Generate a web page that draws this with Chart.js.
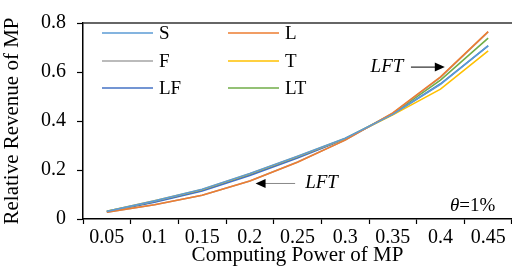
<!DOCTYPE html>
<html>
<head>
<meta charset="utf-8">
<script src="https://cdn.jsdelivr.net/npm/chart.js@4.4.0/dist/chart.umd.min.js"></script>
<style>
  html, body { margin: 0; padding: 0; background: #fff; }
  #wrap { width: 512px; height: 268px; position: relative; }
</style>
</head>
<body>
<div id="wrap"><canvas id="revenueChart"></canvas></div>
<script>
// Chart data
const powerLabels = ['0.05', '0.1', '0.15', '0.2', '0.25', '0.3', '0.35', '0.4', '0.45'];
const seriesNames = ['S', 'L', 'F', 'T', 'LF', 'LT'];
const seriesColors = ['#5B9BD5', '#ED7D31', '#A5A5A5', '#FFC000', '#4472C4', '#70AD47'];
const sValues  = [0.031, 0.074, 0.121, 0.186, 0.256, 0.330, 0.427, 0.550, 0.708];
const lValues  = [0.028, 0.058, 0.097, 0.155, 0.232, 0.322, 0.433, 0.580, 0.765];
const fValues  = [0.028, 0.058, 0.097, 0.155, 0.233, 0.322, 0.432, 0.578, 0.764];
const tValues  = [0.031, 0.074, 0.120, 0.185, 0.255, 0.329, 0.425, 0.530, 0.686];
const lfValues = [0.030, 0.068, 0.114, 0.178, 0.249, 0.326, 0.427, 0.552, 0.707];
const ltValues = [0.031, 0.071, 0.117, 0.182, 0.252, 0.328, 0.430, 0.567, 0.738];
const yTicks = [0, 0.2, 0.4, 0.6, 0.8];

const allValues = [sValues, lValues, fValues, tValues, lfValues, ltValues];
const serif = "'Liberation Serif', 'Times New Roman', serif";

// Legend + annotations drawn on top of the chart area
const extras = {
    id: 'extras',
    afterDraw(chart) {
        const c = chart.ctx;
        const xs = chart.scales.x, ys = chart.scales.y;
        c.save();

        // legend: 2 columns x 3 rows
        const cols = [102, 228];
        const rows = [33, 61, 88];
        chart.data.datasets.forEach((ds, i) => {
            const lx = cols[i % 2], ly = rows[Math.floor(i / 2)];
            c.strokeStyle = ds.borderColor;
            c.lineWidth = 1.5;
            c.beginPath();
            c.moveTo(lx, ly);
            c.lineTo(lx + 51, ly);
            c.stroke();
            c.fillStyle = '#000';
            c.font = '19px ' + serif;
            c.textBaseline = 'middle';
            c.textAlign = 'left';
            c.fillText(ds.label, lx + 57, ly + 1);
        });

        // arrow helper
        function arrow(x1, y1, x2, y2, color) {
            const dir = Math.sign(x2 - x1);
            c.strokeStyle = color;
            c.fillStyle = '#000';
            c.lineWidth = 1;
            c.beginPath();
            c.moveTo(x1, y1);
            c.lineTo(x2 - dir * 9, y2);
            c.stroke();
            c.beginPath();
            c.moveTo(x2, y2);
            c.lineTo(x2 - dir * 10, y2 - 4.5);
            c.lineTo(x2 - dir * 10, y2 + 4.5);
            c.closePath();
            c.fill();
        }

        c.font = 'italic 19px ' + serif;
        c.fillStyle = '#000';
        c.textBaseline = 'middle';

        // upper LFT label
        const y1 = ys.getPixelForValue(0.62);
        c.textAlign = 'right';
        c.fillText('LFT', xs.getPixelForValue(6.22), y1);
        arrow(xs.getPixelForValue(6.38), y1, xs.getPixelForValue(7.09), y1, '#000');

        // lower LFT label
        const y2 = ys.getPixelForValue(0.145);
        c.textAlign = 'left';
        c.fillText('LFT', xs.getPixelForValue(4.16), y2);
        arrow(xs.getPixelForValue(3.95), y2, xs.getPixelForValue(3.12), y2, '#888');

        // theta note
        const ty = ys.getPixelForValue(0.055);
        const tx = xs.getPixelForValue(7.2);
        c.textAlign = 'left';
        c.font = 'italic 19px ' + serif;
        c.fillText('\u03B8', tx, ty);
        const tw = c.measureText('\u03B8').width;
        c.font = '19px ' + serif;
        c.fillText('=1%', tx + tw, ty);

        // top border line
        c.strokeStyle = '#333';
        c.lineWidth = 1.5;
        c.beginPath();
        c.moveTo(chart.chartArea.left, chart.chartArea.top);
        c.lineTo(512, chart.chartArea.top);
        c.stroke();

        c.restore();
    }
};

const ctx = document.getElementById('revenueChart').getContext('2d');
new Chart(ctx, {
    type: 'line',
    data: {
        labels: powerLabels,
        datasets: seriesNames.map((name, i) => ({
            label: name,
            data: allValues[i],
            borderColor: seriesColors[i],
            backgroundColor: seriesColors[i],
            borderWidth: 1.6,
            pointRadius: 0,
            tension: 0,
            fill: false
        }))
    },
    plugins: [extras],
    options: {
        responsive: true,
        maintainAspectRatio: false,
        animation: false,
        layout: { padding: { top: 14, right: 0, left: 0, bottom: 0 } },
        plugins: {
            legend: { display: false },
            tooltip: { enabled: false }
        },
        scales: {
            x: {
                type: 'category',
                offset: true,
                grid: {
                    offset: true,
                    drawOnChartArea: false,
                    drawTicks: true,
                    tickLength: 5,
                    tickColor: '#000',
                    tickWidth: 1.2
                },
                border: { display: true, color: '#000', width: 1.5 },
                ticks: {
                    color: '#000',
                    font: { family: serif, size: 20 },
                    padding: 2,
                    maxRotation: 0,
                    autoSkip: false
                },
                title: {
                    display: true,
                    text: 'Computing Power of MP',
                    color: '#000',
                    font: { family: serif, size: 21 },
                    padding: { top: -4, bottom: 0 }
                },
                afterFit(scale) { scale.height = 49; }
            },
            y: {
                min: 0,
                max: 0.8,
                afterBuildTicks(scale) {
                    scale.ticks = yTicks.map(v => ({ value: v }));
                },
                grid: {
                    drawOnChartArea: false,
                    drawTicks: true,
                    tickLength: 6,
                    tickColor: '#000',
                    tickWidth: 1.2
                },
                border: { display: true, color: '#000', width: 1.5 },
                ticks: {
                    color: '#000',
                    font: { family: serif, size: 20 },
                    padding: 11,
                    callback: v => String(v)
                },
                title: {
                    display: true,
                    text: 'Relative Revenue of MP',
                    color: '#000',
                    font: { family: serif, size: 21 },
                    padding: { top: 0, bottom: 0 }
                },
                afterFit(scale) { scale.width = 83; }
            }
        }
    }
});
</script>
</body>
</html>
